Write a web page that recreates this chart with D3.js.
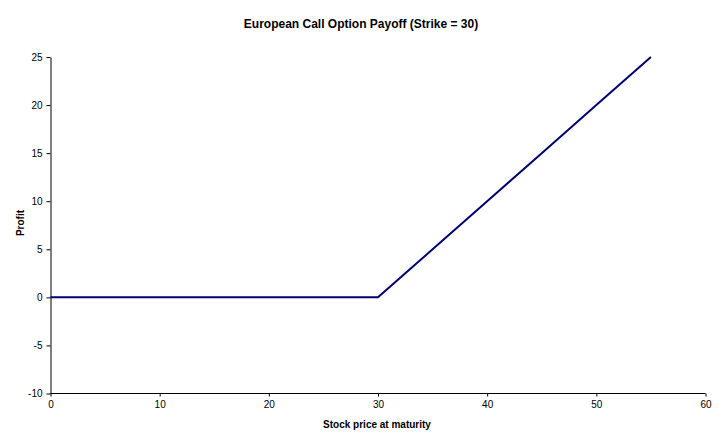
<!DOCTYPE html>
<html><head><meta charset="utf-8">
<script src="https://cdn.jsdelivr.net/npm/d3@7"></script>
<style>
html,body{margin:0;padding:0;background:#fff;}
svg{display:block;font-family:"Liberation Sans",Arial,sans-serif;}
</style></head>
<body>
<svg id="c" width="723" height="444"></svg>
<script>
const stockPrices = [0, 5, 10, 15, 20, 25, 30, 35, 40, 45, 50, 55];
const profits     = [0, 0, 0, 0, 0, 0, 0, 5, 10, 15, 20, 25];
const xTicks = [0, 10, 20, 30, 40, 50, 60];
const yTicks = [-10, -5, 0, 5, 10, 15, 20, 25];
const titleText = "European Call Option Payoff (Strike = 30)";
const xLabel = "Stock price at maturity";
const yLabel = "Profit";

const svg = d3.select("#c");
const x = d3.scaleLinear().domain([0, 60]).range([50.5, 705.5]);
const y = d3.scaleLinear().domain([-10, 25]).range([393.5, 57]);

const fmt = d => String(d);
const xAxis = svg.append("g").attr("transform", "translate(0,393.5)")
  .call(d3.axisBottom(x).tickValues(xTicks).tickFormat(fmt).tickSize(3).tickSizeOuter(0).tickPadding(4));
const yAxis = svg.append("g").attr("transform", "translate(50.5,0)")
  .call(d3.axisLeft(y).tickValues(yTicks).tickFormat(fmt).tickSize(4).tickSizeOuter(0).tickPadding(4));
[xAxis, yAxis].forEach(a => {
  a.selectAll("path,line").attr("stroke", "#000").attr("stroke-width", 1);
  a.selectAll("text").attr("font-family", "Liberation Sans, Arial, sans-serif").attr("font-size", 10).attr("fill", "#000");
});
xAxis.selectAll("path.domain").attr("d", `M${x(0)},0H${x(60)}`);

const line = d3.line().x((d, i) => x(stockPrices[i])).y(d => y(d));
svg.append("path").datum(profits).attr("d", line)
  .attr("fill", "none").attr("stroke", "#000070").attr("stroke-width", 2);

svg.append("text").attr("x", 361).attr("y", 28).attr("text-anchor", "middle")
  .attr("font-size", 12).attr("font-weight", "bold").text(titleText);
svg.append("text").attr("x", 377).attr("y", 428).attr("text-anchor", "middle")
  .attr("font-size", 10).attr("font-weight", "bold").text(xLabel);
svg.append("text").attr("transform", "translate(24,223) rotate(-90)").attr("text-anchor", "middle")
  .attr("font-size", 10).attr("font-weight", "bold").text(yLabel);
</script>
</body></html>
